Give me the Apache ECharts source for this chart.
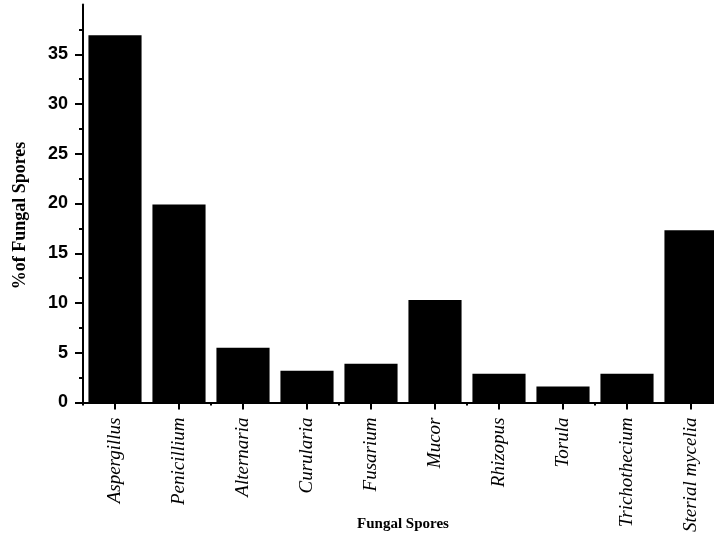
<!DOCTYPE html>
<html>
<head>
<meta charset="utf-8">
<script src="https://cdn.jsdelivr.net/npm/echarts@6/dist/echarts.min.js"></script>
<style>
  html, body { margin: 0; padding: 0; background: #fff; }
  #chart { width: 714px; height: 542px; }
</style>
</head>
<body>
<div id="chart"></div>
<script>
// Fungal spore types and their share of the total count (%)
const categories = ['Aspergillus', 'Penicillium', 'Alternaria', 'Curularia', 'Fusarium',
  'Mucor', 'Rhizopus', 'Torula', 'Trichothecium', 'Sterial mycelia'];
const percentValues = [36.9, 19.9, 5.5, 3.2, 3.9, 10.3, 2.9, 1.6, 2.9, 17.3];
const yTickValues = [0, 5, 10, 15, 20, 25, 30, 35];

const chart = echarts.init(document.getElementById('chart'), null, { renderer: 'canvas' });

const axisLineStyle = { color: '#000', width: 2 };

chart.setOption({
  animation: false,
  backgroundColor: '#fff',
  grid: { left: 83, right: -9, top: 4.5, bottom: 139.5, containLabel: false, outerBoundsMode: 'none' },
  xAxis: [
    {
      type: 'category',
      data: categories,
      position: 'bottom',
      axisLine: { show: true, lineStyle: axisLineStyle },
      axisTick: { show: true, alignWithLabel: true, length: 7, inside: false, lineStyle: { color: '#000', width: 2 } },
      axisLabel: {
        rotate: 90,
        interval: 0,
        margin: 15,
        fontFamily: 'Liberation Serif',
        fontStyle: 'italic',
        fontSize: 19,
        color: '#000'
      },
      name: 'Fungal Spores',
      nameLocation: 'middle',
      nameGap: 114,
      nameMoveOverlap: false,
      nameTextStyle: { fontFamily: 'Liberation Serif', fontWeight: 'bold', fontSize: 15, color: '#000' },
      splitLine: { show: false }
    },
    {
      // boundary ticks between categories
      type: 'category',
      data: categories,
      position: 'bottom',
      axisLine: { show: false },
      axisTick: { show: true, alignWithLabel: false, length: 3, lineStyle: { color: '#000', width: 2 } },
      axisLabel: { show: false },
      splitLine: { show: false }
    }
  ],
  yAxis: {
    type: 'value',
    min: 0,
    max: 40,
    interval: 5,
    axisLine: { show: true, lineStyle: axisLineStyle },
    axisTick: { show: true, length: 8, customValues: yTickValues, lineStyle: { color: '#000', width: 2 } },
    minorTick: { show: true, splitNumber: 2, length: 4, lineStyle: { color: '#000', width: 2 } },
    axisLabel: {
      customValues: yTickValues,
      margin: 15,
      fontFamily: 'Liberation Sans',
      fontWeight: 'bold',
      fontSize: 18,
      color: '#000'
    },
    splitLine: { show: false },
    minorSplitLine: { show: false },
    name: '%of Fungal Spores',
    nameLocation: 'middle',
    nameGap: 54,
    nameRotate: 90,
    nameMoveOverlap: false,
    nameTextStyle: { fontFamily: 'Liberation Serif', fontWeight: 'bold', fontSize: 18, color: '#000', padding: [0, 24, 0, 0] }
  },
  series: [{
    type: 'bar',
    xAxisIndex: 0,
    data: percentValues,
    barCategoryGap: '17%',
    itemStyle: { color: '#000' }
  }]
});
</script>
</body>
</html>
